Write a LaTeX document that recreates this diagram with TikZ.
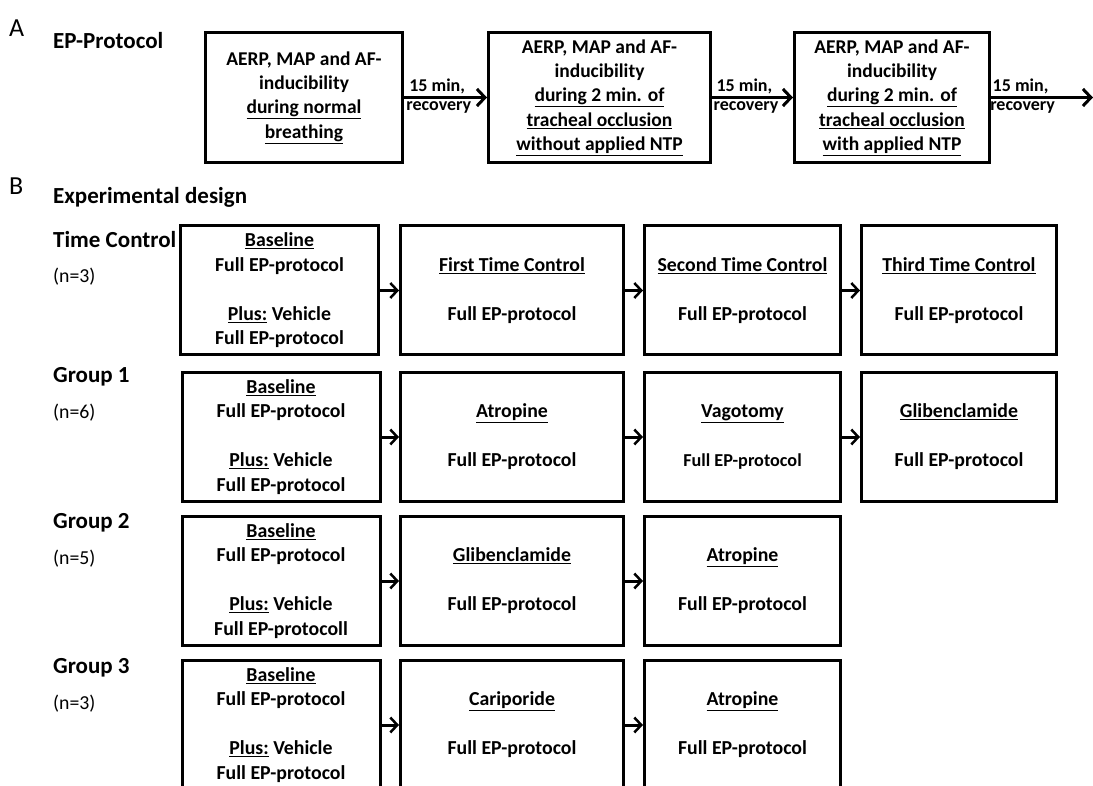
\documentclass[tikz,border=0pt]{standalone}
\usepackage{fontspec}
\setmainfont{Carlito}
\usepackage{tikz}
\usetikzlibrary{arrows.meta, positioning}

\tikzset{
  abox/.style={draw, line width=3pt, inner sep=0pt, align=center,
    minimum height=130pt, font=\bfseries\fontsize{19.5}{24.4}\selectfont},
  bbox/.style={draw, line width=3pt, inner sep=0pt, align=center,
    minimum height=129pt, font=\bfseries\fontsize{19.8}{24.5}\selectfont},
  arrA/.style={line width=3.5pt, -{Straight Barb[length=8pt, width=17pt, line width=3pt]}},
  arrB/.style={line width=3pt, -{Straight Barb[length=7pt, width=15pt, line width=2.5pt]}},
  letter/.style={anchor=west, inner sep=0pt, font=\fontsize{26}{28}\selectfont},
  lbl/.style={anchor=west, inner sep=0pt, font=\bfseries\fontsize{23}{26}\selectfont},
  ncount/.style={anchor=west, inner sep=0pt, font=\fontsize{19.8}{22}\selectfont},
  rec/.style={inner sep=2pt, font=\bfseries\fontsize{18}{20}\selectfont}
}

\begin{document}
\begin{tikzpicture}[x=1pt, y=-1pt]
    \useasboundingbox (0,0) rectangle (1093,786);
    \clip (0,0) rectangle (1093,786);

    % 1. Teil A: EP-Protokoll
    \node[letter] (labA) at (9,28) {A};
    \node[lbl] (epprot) at (53,41) {EP-Protocol};

    \node[abox, minimum width=197pt] (pa1) at (304,97.5)
        {AERP, MAP and AF-\\inducibility\\\underline{during normal}\\\underline{breathing}};
    \node[abox, minimum width=222pt] (pa2) at (599.5,97.5)
        {AERP, MAP and AF-\\inducibility\\\underline{during 2 min. of}\\\underline{tracheal occlusion}\\\underline{without applied NTP}};
    \node[abox, minimum width=195pt] (pa3) at (892,97.5)
        {AERP, MAP and AF-\\inducibility\\\underline{during 2 min. of}\\\underline{tracheal occlusion}\\\underline{with applied NTP}};
    \coordinate (paend) at (1093,97.5);

    \draw[arrA] (pa1.east) -- node[rec, above, pos=0.4] {15 min,} node[rec, below, pos=0.42] {recovery} (pa2.west);
    \draw[arrA] (pa2.east) -- node[rec, above, pos=0.4] {15 min,} node[rec, below, pos=0.42] {recovery} (pa3.west);
    \draw[arrA] (pa3.east) -- node[rec, above, pos=0.29] {15 min,} node[rec, below, pos=0.31] {recovery} (paend);

    % 2. Teil B: Versuchsplan
    \node[letter] (labB) at (9,186) {B};
    \node[lbl] (expdes) at (53,197) {Experimental design};

    \node[lbl] (tc) at (53,240) {Time Control};
    \node[ncount] (tcn) at (53,277) {(n=3)};
    \foreach \g/\n/\ya in {1/6/377, 2/5/523, 3/3/668} {
        \node[lbl] (grp\g) at (53,\ya) {Group \g};
        \node[ncount] (cnt\g) at (53,\ya+36) {(n=\n)};
    }

    % Zeile 1: Time Control
    \node[bbox, minimum width=198pt] (t1) at (279.5,290.5)
        {\underline{Baseline}\\Full EP-protocol\\[24.5pt]\underline{Plus:} Vehicle\\Full EP-protocol};
    \node[bbox, minimum width=223pt] (t2) at (512,290.5)
        {\underline{First Time Control}\\[24.5pt]Full EP-protocol};
    \node[bbox, minimum width=196pt] (t3) at (742.5,290.5)
        {\underline{Second Time Control}\\[24.5pt]Full EP-protocol};
    \node[bbox, minimum width=195pt] (t4) at (959,290.5)
        {\underline{Third Time Control}\\[24.5pt]Full EP-protocol};

    % Zeile 2: Group 1
    \node[bbox, minimum width=198pt] (a1) at (281,437)
        {\underline{Baseline}\\Full EP-protocol\\[24.5pt]\underline{Plus:} Vehicle\\Full EP-protocol};
    \node[bbox, minimum width=223pt] (a2) at (512,437)
        {\underline{Atropine}\\[24.5pt]Full EP-protocol};
    \node[bbox, minimum width=196pt] (a3) at (742.5,437)
        {\underline{Vagotomy}\\[24.5pt]{\fontsize{18.2}{24.5}\selectfont Full EP-protocol}};
    \node[bbox, minimum width=195pt] (a4) at (959,437)
        {\underline{Glibenclamide}\\[24.5pt]Full EP-protocol};

    % Zeile 3: Group 2
    \node[bbox, minimum width=198pt] (b1) at (281,581)
        {\underline{Baseline}\\Full EP-protocol\\[24.5pt]\underline{Plus:} Vehicle\\Full EP-protocoll};
    \node[bbox, minimum width=223pt] (b2) at (512,581)
        {\underline{Glibenclamide}\\[24.5pt]Full EP-protocol};
    \node[bbox, minimum width=196pt] (b3) at (742.5,581)
        {\underline{Atropine}\\[24.5pt]Full EP-protocol};

    % Zeile 4: Group 3
    \node[bbox, minimum width=198pt] (c1) at (281,725)
        {\underline{Baseline}\\Full EP-protocol\\[24.5pt]\underline{Plus:} Vehicle\\Full EP-protocol};
    \node[bbox, minimum width=223pt] (c2) at (512,725)
        {\underline{Cariporide}\\[24.5pt]Full EP-protocol};
    \node[bbox, minimum width=196pt] (c3) at (742.5,725)
        {\underline{Atropine}\\[24.5pt]Full EP-protocol};

    % 3. Pfeile
    \draw[arrB] (t1) -- (t2);
    \draw[arrB] (t2) -- (t3);
    \draw[arrB] (t3) -- (t4);
    \draw[arrB] (a1) -- (a2);
    \draw[arrB] (a2) -- (a3);
    \draw[arrB] (a3) -- (a4);
    \draw[arrB] (b1) -- (b2);
    \draw[arrB] (b2) -- (b3);
    \draw[arrB] (c1) -- (c2);
    \draw[arrB] (c2) -- (c3);
\end{tikzpicture}
\end{document}
